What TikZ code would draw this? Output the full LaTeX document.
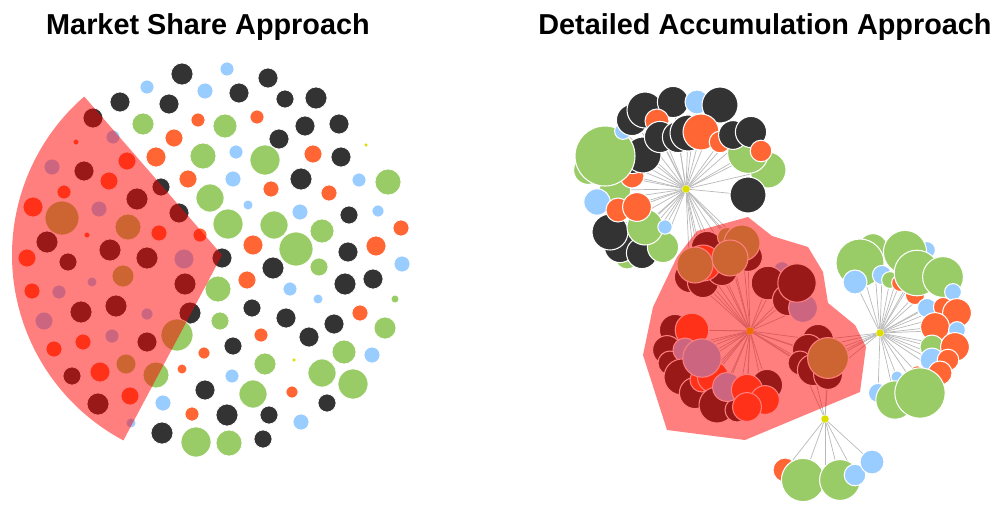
\documentclass[tikz,border=0pt]{standalone}
\usepackage{fontspec}
\setmainfont{Liberation Sans}
\usetikzlibrary{backgrounds}
\definecolor{dotK}{RGB}{51,51,51}
\definecolor{dotB}{RGB}{153,204,255}
\definecolor{dotO}{RGB}{255,102,51}
\definecolor{dotG}{RGB}{153,204,102}
\definecolor{dotY}{RGB}{221,221,0}
\tikzset{
  title/.style={font=\bfseries\fontsize{16.4pt}{18pt}\selectfont, inner sep=0pt},
  blob/.style={circle, inner sep=0pt, draw=white, line width=0.6pt},
  hub/.style={circle, inner sep=0pt, fill=dotY, minimum size=1.5mm},
  link/.style={draw=gray!55, line width=0.4pt},
  redcover/.style={fill=red, opacity=0.5},
}

\begin{document}
\begin{tikzpicture}[x=0.2mm,y=-0.2mm]
		\useasboundingbox (0,0) rectangle (1000,514);
		\node[title] (leftT)  at (208,27) {Market Share Approach};
		\node[title] (rightT) at (765,27) {Detailed Accumulation Approach};
		% market share dots
		\foreach \x/\y/\r/\c in {182/74/11/K,147/87/7/B,205/91/8/B,227/69/7/B,120/102/10/K,169/104/10/K,
			239/93/10/K,268/78/10/K,285/99/9/K,316/98/11/K,93/118/10/K,143/124/11/G,198/120/7/O,
			225/126/12/G,257/117/7/O,305/126/10/K,339/124/10/K,279/139/10/K,366/145/2/Y,76/142/3/O,
			113/137/7/B,174/138/9/O,203/156/13/G,236/152/7/B,265/160/15/G,313/154/9/O,341/157/10/K,
			156/157/10/O,127/161/9/O,52/167/8/B,84/171/10/K,109/181/9/O,188/179/9/O,233/179/8/B,
			301/179/11/K,359/180/7/B,388/182/13/G,161/187/9/K,64/192/7/O,137/199/11/K,210/198/14/G,
			271/189/8/O,329/193/8/O,248/205/5/B,300/212/8/B,349/215/9/K,378/211/6/B,33/207/10/O,
			99/209/8/B,62/218/17/G,179/213/10/K,228/224/15/G,274/225/14/G,322/231/12/G,401/228/8/O,
			128/227/13/G,159/233/8/O,87/235/3/O,200/235/7/O,253/245/10/O,296/249/17/G,376/246/10/O,
			348/252/10/K,47/242/11/K,110/250/11/K,27/258/9/O,68/262/9/K,147/258/11/K,184/259/10/B,
			222/258/10/K,402/264/8/B,273/268/11/K,319/267/9/G,123/276/11/G,92/282/5/B,32/291/8/O,
			59/292/7/B,185/284/11/K,247/280/9/O,218/289/13/G,290/289/7/B,345/284/11/K,373/279/10/K,
			81/312/11/K,116/306/11/K,147/314/6/B,190/313/11/K,318/299/5/B,395/299/4/G,252/308/9/K,
			286/318/10/K,334/324/10/K,360/313/8/O,44/321/9/B,220/321/9/G,385/328/11/G,177/335/16/G,
			112/336/7/B,83/342/8/O,147/342/10/K,54/349/8/O,204/353/6/O,261/335/7/O,309/337/10/K,
			233/346/9/K,344/352/12/G,372/355/8/B,126/364/10/G,100/372/10/O,72/376/9/K,182/369/5/O,
			156/375/13/G,294/360/2/Y,265/364/11/G,232/376/7/B,322/373/14/G,353/384/15/G,205/390/10/K,
			130/396/9/O,98/404/11/K,163/403/8/B,253/394/14/G,292/392/6/O,327/403/9/K,192/414/7/O,
			131/423/5/B,227/415/11/K,269/415/9/K,301/422/8/B,162/433/11/K,196/442/15/G,229/443/13/G,
			263/439/9/K}
			\fill[dot\c, draw=white, line width=0.4pt] (\x,\y) circle[radius=\r];
		\fill[redcover] (222,255) -- ++(229:210) arc[start angle=229, end angle=118, radius=210] -- cycle;

		% accumulation network
		\node[hub] (h1) at (686,189) {};
		\node[hub] (h2) at (750,331) {};
		\node[hub] (h3) at (880,333) {};
		\node[hub] (h4) at (825,419) {};
		\foreach \x/\y/\r/\c [count=\i] in {588/170/12/G,615/190/13/G,627/257/10/G,620/247/13/K,610/232/15/K,
			642/253/13/K,663/247/13/G,645/227/15/G,665/227/6/B,597/202/11/B,618/210/10/O,637/207/12/O,
			632/176/10/O,632/158/13/K,643/155/15/K,605/156/25/G,623/131/7/B,632/120/13/K,645/110/15/K,
			673/102/13/K,697/102/10/B,720/105/15/K,657/121/10/O,660/137/13/K,678/137/13/K,688/133/15/K,
			701/132/15/O,720/142/9/O,768/170/15/G,748/153/17/G,733/135/12/K,751/132/13/K,761/151/9/O,
			748/195/15/K}
			\node[blob, fill=dot\c, minimum size=\r*0.48mm] (a\i) at (\x,\y) {};
		\foreach \x/\y/\r/\c [count=\i] in {707/247/13/K,690/277/13/K,703/282/13/K,722/270/13/K,703/263/15/O,
			695/265/15/G,748/257/12/K,727/237/8/G,742/243/15/G,730/258/15/G,
			782/270/7/B,768/283/14/K,788/300/13/K,803/308/12/B,797/283/16/K,
			675/330/13/K,667/350/12/K,670/363/10/K,692/330/14/O,685/350/10/B,682/377/15/K,695/393/13/K,
			702/380/10/O,713/377/13/O,702/358/16/B,717/405/15/K,737/410/10/K,727/387/12/B,767/385/13/K,
			747/390/13/O,765/400/12/O,747/407/12/O,
			818/340/13/K,808/350/13/K,800/363/10/K,813/370/13/K,828/375/12/K,828/358/17/G}
			\node[blob, fill=dot\c, minimum size=\r*0.48mm] (b\i) at (\x,\y) {};
		\foreach \x/\y/\r/\c [count=\i] in {873/248/12/G,860/263/20/G,855/282/10/B,882/275/8/B,927/250/7/B,
			905/252/18/G,890/280/7/G,900/283/7/O,915/295/8/O,917/273/19/G,943/277/17/G,953/292/7/B,
			927/308/8/B,943/307/8/O,957/313/12/O,935/327/12/O,957/330/7/B,932/347/10/G,955/347/12/O,
			932/360/10/B,948/360/9/O,940/373/10/O,917/373/6/O,897/377/5/B,878/393/8/B,895/400/16/G,
			920/393/21/G}
			\node[blob, fill=dot\c, minimum size=\r*0.48mm] (c\i) at (\x,\y) {};
		\foreach \x/\y/\r/\c [count=\i] in {785/470/10/O,825/483/7/O,803/480/18/G,840/480/17/G,855/475/9/B,
			872/462/10/B}
			\node[blob, fill=dot\c, minimum size=\r*0.48mm] (d\i) at (\x,\y) {};
		\begin{pgfonlayer}{background}
			\foreach \i in {1,...,34} \draw[link] (h1) -- (a\i);
			\foreach \i in {1,...,10} \draw[link] (h1) -- (b\i);
			\foreach \i in {1,...,38} \draw[link] (h2) -- (b\i);
			\foreach \i in {1,...,27} \draw[link] (h3) -- (c\i);
			\foreach \i in {33,...,38} \draw[link] (h3) -- (b\i);
			\foreach \i in {1,...,6} \draw[link] (h4) -- (d\i);
			\foreach \i in {35,36,37,38} \draw[link] (h4) -- (b\i);
		\end{pgfonlayer}
		\fill[redcover] (697,231) -- (748,217) -- (772,236) -- (808,247) -- (823,272) -- (828,303)
			-- (855,325) -- (866,347) -- (860,392) -- (745,440) -- (667,430) -- (643,355)
			-- (653,307) -- (677,257) -- cycle;
\end{tikzpicture}
\end{document}
